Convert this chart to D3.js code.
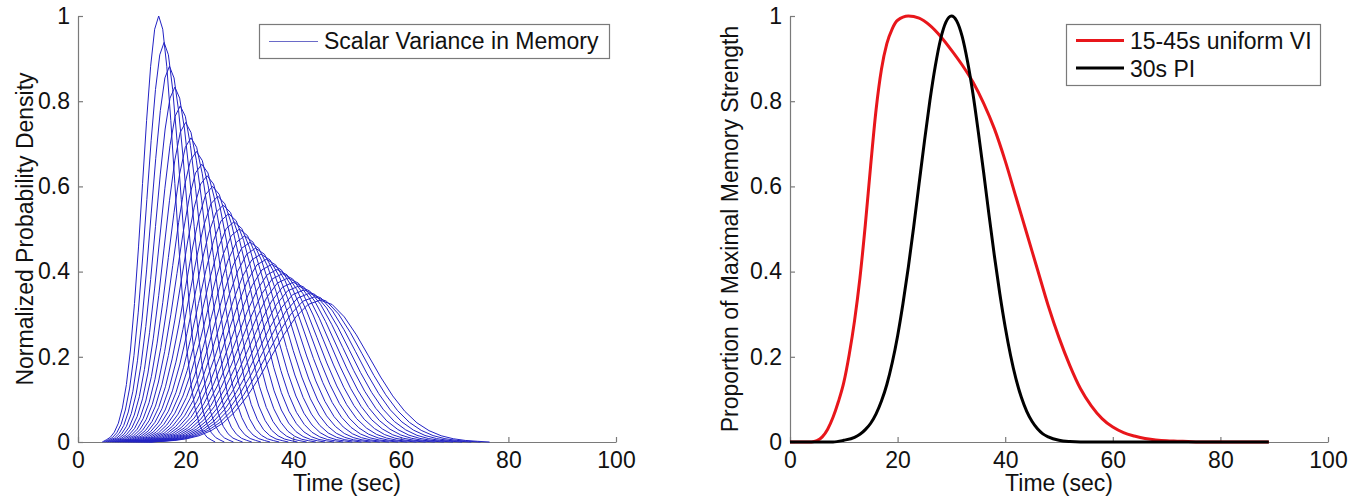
<!DOCTYPE html>
<html>
<head>
<meta charset="utf-8">
<script src="https://cdn.jsdelivr.net/npm/d3@7"></script>
<style>
  html, body { margin: 0; padding: 0; background: #fff; }
  svg { display: block; }
  text { font-family: "Liberation Sans", Arial, sans-serif; fill: #111; }
</style>
</head>
<body>
<svg id="chart" width="1368" height="504"></svg>
<script>
// ---------------- DATA ----------------
const xTickValues = [0, 20, 40, 60, 80, 100];
const yTickValues = [0, 0.2, 0.4, 0.6, 0.8, 1];

// Left panel: remembered intervals (s) and their peak heights
const intervalMeans = [15,16,17,18,19,20,21,22,23,24,25,26,27,28,29,30,31,32,33,34,35,36,37,38,39,40,41,42,43,44,45];
const peakHeights = [1.000,0.938,0.882,0.833,0.789,0.750,0.714,0.682,0.652,0.625,0.600,0.577,0.556,0.536,0.517,0.500,0.484,0.469,0.455,0.441,0.429,0.417,0.405,0.395,0.385,0.375,0.366,0.357,0.349,0.341,0.333];
// Shared scalar shape: offset from the mean as a fraction of the mean, and relative height
const profileOffsets = [-0.70,-0.65,-0.60,-0.55,-0.50,-0.45,-0.40,-0.35,-0.30,-0.25,-0.20,-0.15,-0.10,-0.05,0.00,0.05,0.10,0.15,0.20,0.25,0.30,0.35,0.40,0.45,0.50,0.55,0.60,0.65,0.70];
const profileValues  = [0.000,0.005,0.011,0.023,0.044,0.080,0.135,0.216,0.325,0.458,0.607,0.755,0.882,0.969,1.000,0.969,0.882,0.755,0.607,0.458,0.325,0.216,0.135,0.080,0.044,0.023,0.011,0.005,0.000];

// Right panel
const viTimes  = [0,2,4,5,6,7,8,9,10,11,12,13,14,15,16,17,18,19,20,22,24,26,28,30,32,34,36,38,40,42,44,46,48,50,52,54,56,58,60,62,64,66,68,70,72,74,76,80,84,89];
const viValues = [0,0,0,0.003,0.012,0.03,0.058,0.095,0.14,0.205,0.285,0.385,0.51,0.65,0.78,0.875,0.935,0.97,0.99,1.00,0.995,0.978,0.952,0.92,0.885,0.845,0.795,0.735,0.66,0.575,0.49,0.405,0.32,0.245,0.18,0.125,0.085,0.055,0.035,0.022,0.014,0.008,0.005,0.003,0.002,0.001,0,0,0,0];
const piTimes  = [0,4,8,10,12,13,14,15,16,17,18,19,20,21,22,23,24,25,26,27,28,29,30,31,32,33,34,35,36,37,38,39,40,41,42,43,44,45,46,47,48,50,52,54,60,70,80,89];
const piValues = [0,0,0,0.004,0.011,0.018,0.029,0.044,0.066,0.096,0.135,0.186,0.249,0.325,0.411,0.506,0.607,0.707,0.801,0.882,0.946,0.986,1.000,0.988,0.952,0.893,0.818,0.728,0.632,0.532,0.436,0.348,0.27,0.203,0.148,0.105,0.072,0.048,0.031,0.019,0.012,0.004,0.001,0,0,0,0,0];

const leftLegendLabel = "Scalar Variance in Memory";
const rightLegendLabels = ["15-45s uniform VI", "30s PI"];
const xLabel = "Time (sec)";
const leftYLabel = "Normalized Probability Density";
const rightYLabel = "Proportion of Maximal Memory Strength";

// ---------------- DRAW ----------------
const svg = d3.select("#chart");
const FONT = 23;
const axisColor = "#7a7a7a";
const plotTop = 16, plotBottom = 442;

function drawAxes(x0, x1, yTitle, yTitleX) {
  const x = d3.scaleLinear().domain([0, 100]).range([x0, x1]);
  const y = d3.scaleLinear().domain([0, 1]).range([plotBottom, plotTop]);
  const g = svg.append("g");
  const gx = g.append("g").attr("transform", `translate(0,${plotBottom})`)
    .call(d3.axisBottom(x).tickValues(xTickValues).tickSize(-5).tickSizeOuter(0).tickPadding(10).tickFormat(d3.format("d")));
  const gy = g.append("g").attr("transform", `translate(${x0},0)`)
    .call(d3.axisLeft(y).tickValues(yTickValues).tickSize(-5).tickSizeOuter(0).tickPadding(8).tickFormat(d => d === 0 ? "0" : d === 1 ? "1" : d3.format(".1f")(d)));
  [gx, gy].forEach(a => {
    a.select(".domain").attr("stroke", axisColor).attr("stroke-width", 1.2);
    a.selectAll(".tick line").attr("stroke", axisColor).attr("stroke-width", 1.2);
    a.selectAll(".tick text").attr("font-size", FONT).attr("font-family", '"Liberation Sans", Arial, sans-serif').attr("fill", "#111");
  });
  g.append("text").attr("x", (x0 + x1) / 2).attr("y", 491).attr("text-anchor", "middle")
    .attr("font-size", FONT).text(xLabel);
  g.append("text").attr("transform", `translate(${yTitleX},${(plotTop + plotBottom) / 2}) rotate(-90)`)
    .attr("text-anchor", "middle").attr("font-size", FONT).text(yTitle);
  return {x, y};
}

// Left panel
const L = drawAxes(78, 616, leftYLabel, 33);
const blue = "#2222c4";
const lineL = d3.line().x(d => L.x(d[0])).y(d => L.y(d[1]));
const curves = intervalMeans.map((mu, i) =>
  profileOffsets.map((o, j) => [mu * (1 + o), peakHeights[i] * profileValues[j]]));
svg.append("g").selectAll("path").data(curves).join("path")
  .attr("d", lineL).attr("fill", "none").attr("stroke", blue).attr("stroke-width", 1);

// Left legend
const lg = svg.append("g");
lg.append("rect").attr("x", 259.5).attr("y", 24.5).attr("width", 350).attr("height", 34)
  .attr("fill", "#fff").attr("stroke", axisColor).attr("stroke-width", 1.2);
lg.append("line").attr("x1", 269).attr("x2", 318).attr("y1", 41.5).attr("y2", 41.5)
  .attr("stroke", "#6a6ac8").attr("stroke-width", 1.2);
lg.append("text").attr("x", 324).attr("y", 49).attr("font-size", FONT).text(leftLegendLabel);

// Right panel
const R = drawAxes(790, 1328, rightYLabel, 738);
const lineR = d3.line().x(d => R.x(d[0])).y(d => R.y(d[1])).curve(d3.curveMonotoneX);
const viData = viTimes.map((t, i) => [t, viValues[i]]);
const piData = piTimes.map((t, i) => [t, piValues[i]]);
const red = "#e8161b";
svg.append("path").datum(viData).attr("d", lineR).attr("fill", "none").attr("stroke", red).attr("stroke-width", 3);
svg.append("path").datum(piData).attr("d", lineR).attr("fill", "none").attr("stroke", "#000").attr("stroke-width", 3);

// Right legend
const rg = svg.append("g");
rg.append("rect").attr("x", 1066.5).attr("y", 24.5).attr("width", 254).attr("height", 61)
  .attr("fill", "#fff").attr("stroke", axisColor).attr("stroke-width", 1.2);
const legColors = [red, "#000"];
rightLegendLabels.forEach((lab, i) => {
  const yy = 40.5 + i * 27.5;
  rg.append("line").attr("x1", 1076).attr("x2", 1124).attr("y1", yy).attr("y2", yy)
    .attr("stroke", legColors[i]).attr("stroke-width", 3);
  rg.append("text").attr("x", 1130).attr("y", 49 + i * 27.5).attr("font-size", FONT).text(lab);
});
</script>
</body>
</html>
